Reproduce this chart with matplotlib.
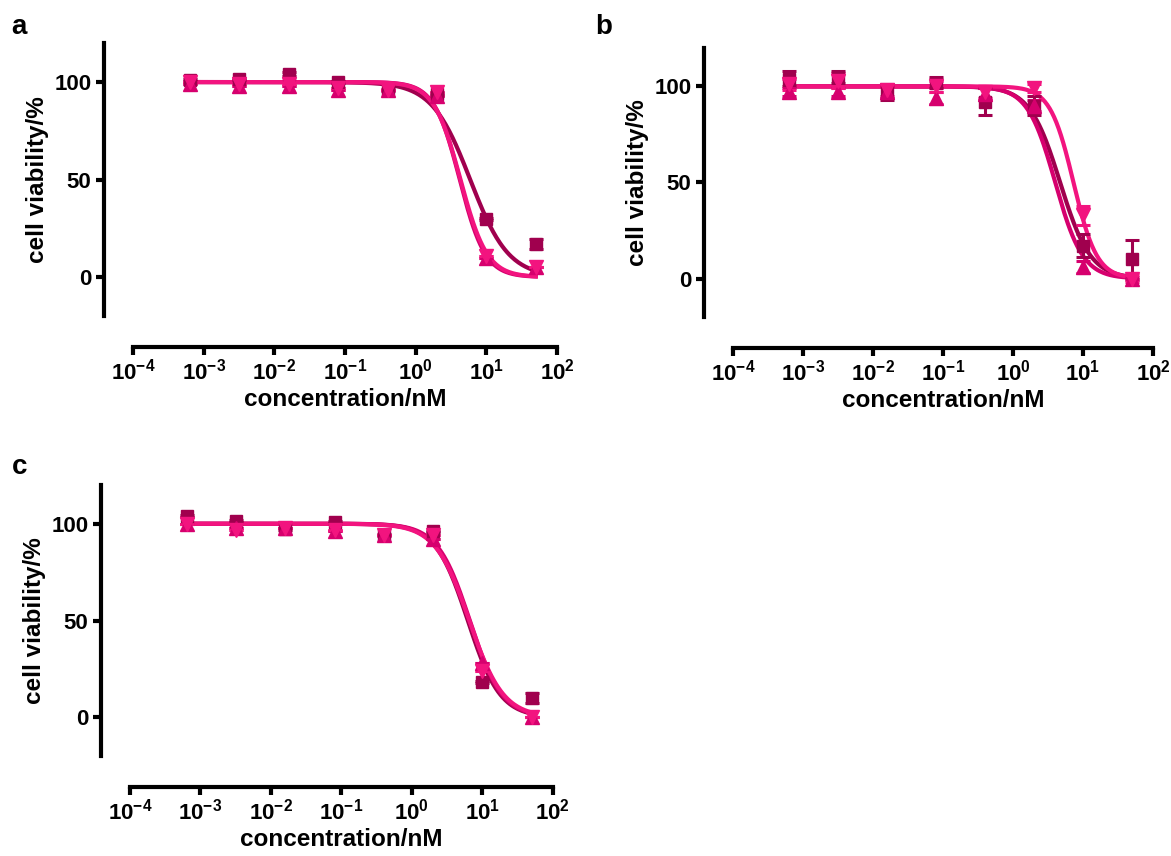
import numpy as np
import matplotlib
matplotlib.use("Agg")
import matplotlib.pyplot as plt
from matplotlib.ticker import LogLocator, NullLocator, FixedLocator

plt.rcParams["font.family"] = ["Liberation Sans", "DejaVu Sans"]
plt.rcParams["font.weight"] = "bold"
plt.rcParams["mathtext.fontset"] = "custom"
plt.rcParams["mathtext.rm"] = "Liberation Sans:bold"
plt.rcParams["mathtext.it"] = "Liberation Sans:bold"
plt.rcParams["mathtext.bf"] = "Liberation Sans:bold"
plt.rcParams["axes.unicode_minus"] = False

# concentrations (nM), 5-fold dilution
conc = [0.00064, 0.0032, 0.016, 0.08, 0.4, 2, 10, 50]

# panel a
a_sq = [101, 101.5, 104, 100, 96, 94, 30, 17]
a_up = [99, 98, 98, 96, 96, 93, 10, 5]
a_dn = [100, 99, 99, 97, 96, 95, 11, 5]
a_sq_err = [0.5, 0.5, 1, 0.5, 0.5, 0.5, 0.5, 2.5]
a_up_err = [0, 0, 0, 0, 0, 0, 0, 0]
a_dn_err = [0, 0, 0, 0, 0, 0, 0, 0]

# panel b
b_sq = [104, 105, 97, 102, 92, 90, 17, 10]
b_up = [97, 97, 97, 94, 96, 90, 6, 0]
b_dn = [101, 103, 98, 100, 97, 99, 33, 0]
b_sq_err = [4, 3, 4, 3, 7, 5, 6, 10]
b_up_err = [2, 2, 3, 3, 3, 3, 3, 1]
b_dn_err = [3, 4, 3, 3, 3, 2, 5, 2]

# panel c
c_sq = [104, 101.5, 97.5, 101, 94, 96, 18, 10]
c_up = [100, 98, 98, 96, 94, 92, 28, 0]
c_dn = [100, 97, 98, 97, 94, 94, 24, 0]
c_sq_err = [0.5, 0.5, 0.5, 0.5, 0.5, 0.5, 0.5, 2.5]
c_up_err = [0, 0, 0, 0, 0, 0, 0, 0]
c_dn_err = [0, 0, 0, 0, 0, 0, 0, 0]

# fitted curves: top, bottom, IC50 (nM), hill slope
a_fits = [(100, 0, 5.9, 1.6), (100, 0, 4.2, 2.4), (100, 0, 4.3, 2.3)]
b_fits = [(100, 0, 4.7, 2.0), (100, 0, 4.0, 2.2), (100, 0, 7.3, 2.6)]
c_fits = [(100, 0, 6.2, 1.9), (100, 0, 6.6, 1.9), (100, 0, 6.5, 1.8)]

colors = ["#A0004E", "#D6006E", "#F2147F"]
markers = ["s", "^", "v"]
msizes = [9, 10, 10]


def logistic(x, top, bottom, ic50, hill):
    return bottom + (top - bottom) / (1 + (x / ic50) ** hill)


def draw_panel(ax, series, errs, fits):
    xs = np.logspace(np.log10(conc[0]), np.log10(conc[-1]), 300)
    for i in range(3):
        ax.plot(xs, logistic(xs, *fits[i]), color=colors[i], lw=3, zorder=2)
    for i in range(3):
        ax.errorbar(conc, series[i], yerr=errs[i], fmt=markers[i], color=colors[i],
                    ms=msizes[i], capsize=5, elinewidth=2.2, capthick=2.2, zorder=3)
    ax.set_xscale("log")
    ax.set_xlim(1e-4, 1e2)
    ax.set_ylim(-20, 120)
    ax.xaxis.set_major_locator(LogLocator(base=10, numticks=10))
    ax.xaxis.set_minor_locator(NullLocator())
    ax.yaxis.set_major_locator(FixedLocator([0, 50, 100]))
    for s in ["top", "right"]:
        ax.spines[s].set_visible(False)
    ax.spines["left"].set_position(("outward", 21))
    ax.spines["bottom"].set_position(("outward", 22))
    ax.spines["left"].set_linewidth(3)
    ax.spines["bottom"].set_linewidth(3)
    ax.tick_params(width=3, length=6, direction="out")
    ax.tick_params(axis="y", labelsize=16, pad=3)
    ax.tick_params(axis="x", labelsize=16, pad=3)
    ax.set_xlabel("concentration/nM", fontsize=17.5, fontweight="bold", labelpad=2)
    ax.set_ylabel("cell viability/%", fontsize=17.5, fontweight="bold", labelpad=4)


fig = plt.figure(figsize=(11.71, 8.56), dpi=100)
ax_a = fig.add_axes([0.1136, 0.6308, 0.3621, 0.3189])
ax_b = fig.add_axes([0.626, 0.6297, 0.3587, 0.3143])
ax_c = fig.add_axes([0.111, 0.1168, 0.3612, 0.3166])

draw_panel(ax_a, [a_sq, a_up, a_dn], [a_sq_err, a_up_err, a_dn_err], a_fits)
draw_panel(ax_b, [b_sq, b_up, b_dn], [b_sq_err, b_up_err, b_dn_err], b_fits)
draw_panel(ax_c, [c_sq, c_up, c_dn], [c_sq_err, c_up_err, c_dn_err], c_fits)

fig.text(0.010, 0.968, "a", fontsize=20, fontweight="bold", va="center")
fig.text(0.508, 0.968, "b", fontsize=20, fontweight="bold", va="center")
fig.text(0.010, 0.454, "c", fontsize=20, fontweight="bold", va="center")

fig.savefig("out.png", dpi=100)
